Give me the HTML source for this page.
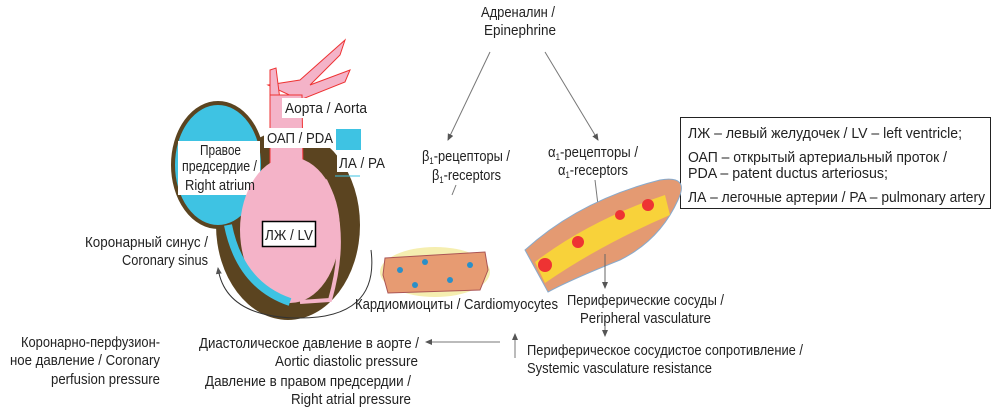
<!DOCTYPE html><html><head><meta charset="utf-8"><style>
html,body{margin:0;padding:0;background:#fff;width:999px;height:415px;overflow:hidden}
text{font-family:"Liberation Sans",sans-serif;font-size:15px;fill:#222}
</style></head><body>
<svg width="999" height="415" viewBox="0 0 999 415" xmlns="http://www.w3.org/2000/svg">
<defs><marker id="a" markerWidth="8" markerHeight="8" refX="6" refY="4" orient="auto"><path d="M0,1 L7,4 L0,7 Z" fill="#555"/></marker></defs>
<text x="481" y="17" textLength="74" lengthAdjust="spacingAndGlyphs">Адреналин /</text>
<text x="484" y="35" textLength="72" lengthAdjust="spacingAndGlyphs">Epinephrine</text>
<line x1="490" y1="52" x2="448" y2="140" stroke="#777" marker-end="url(#a)"/>
<line x1="545" y1="52" x2="598" y2="140" stroke="#777" marker-end="url(#a)"/>
<text x="422" y="161" textLength="88" lengthAdjust="spacingAndGlyphs">β<tspan font-size="9" dy="3">1</tspan><tspan dy="-3">-рецепторы /</tspan></text>
<text x="432" y="180" textLength="69" lengthAdjust="spacingAndGlyphs">β<tspan font-size="9" dy="3">1</tspan><tspan dy="-3">-receptors</tspan></text>
<line x1="456" y1="185" x2="452" y2="195" stroke="#777"/>
<text x="548" y="157" textLength="90" lengthAdjust="spacingAndGlyphs">α<tspan font-size="9" dy="3">1</tspan><tspan dy="-3">-рецепторы /</tspan></text>
<text x="558" y="175" textLength="70" lengthAdjust="spacingAndGlyphs">α<tspan font-size="9" dy="3">1</tspan><tspan dy="-3">-receptors</tspan></text>
<line x1="595" y1="180" x2="598" y2="205" stroke="#777"/>
<rect x="680.5" y="117.5" width="310" height="91" fill="#fff" stroke="#222"/>
<text x="688" y="138" textLength="274" lengthAdjust="spacingAndGlyphs">ЛЖ – левый желудочек / LV – left ventricle;</text>
<text x="688" y="162" textLength="259" lengthAdjust="spacingAndGlyphs">ОАП – открытый артериальный проток /</text>
<text x="688" y="178" textLength="200" lengthAdjust="spacingAndGlyphs">PDA – patent ductus arteriosus;</text>
<text x="688" y="202" textLength="297" lengthAdjust="spacingAndGlyphs">ЛА – легочные артерии / PA – pulmonary artery</text>
<!-- heart -->
<path d="M268,85 L300,80 L345,40 L340,55 L310,85 L350,70 L345,82 L300,100 Z" fill="#f4b3c8" stroke="#e33" stroke-width="1"/>
<path d="M270,70 L276,68 L280,100 L270,100 Z" fill="#f4b3c8" stroke="#e33"/>
<ellipse cx="288" cy="225" rx="72" ry="95" fill="#5b4420"/>
<ellipse cx="218" cy="165" rx="45" ry="62" fill="#3ec3e3" stroke="#5b4420" stroke-width="4"/>
<rect x="178" y="141" width="82" height="54" fill="#fff"/>
<path d="M270,95 L302,95 L303,168 L290,175 L270,168 Z" fill="#f4b3c8" stroke="#e33"/>
<ellipse cx="290" cy="230" rx="50" ry="73" fill="#f4b3c8"/>
<path d="M228,225 Q240,285 290,302" stroke="#3ec3e3" stroke-width="8" fill="none"/>
<path d="M325,180 Q350,230 330,300 L300,302" stroke="#f4b3c8" stroke-width="4" fill="none"/>
<rect x="282" y="98" width="86" height="20" fill="#fff"/>
<text x="285" y="113" textLength="82" lengthAdjust="spacingAndGlyphs">Аорта / Aorta</text>
<rect x="264" y="128" width="71" height="20" fill="#fff"/>
<text x="267" y="143" textLength="66" lengthAdjust="spacingAndGlyphs">ОАП / PDA</text>
<rect x="336" y="129" width="25" height="21" fill="#3ec3e3"/>
<rect x="337" y="152" width="50" height="20" fill="#fff"/>
<text x="339" y="168" textLength="46" lengthAdjust="spacingAndGlyphs">ЛА / РА</text>
<line x1="335" y1="176" x2="360" y2="176" stroke="#3ec3e3"/>
<text x="200" y="155" textLength="41" lengthAdjust="spacingAndGlyphs">Правое</text>
<text x="182" y="171" textLength="75" lengthAdjust="spacingAndGlyphs">предсердие /</text>
<text x="185" y="190" textLength="70" lengthAdjust="spacingAndGlyphs">Right atrium</text>
<rect x="262.5" y="221.5" width="53" height="25" fill="#fff" stroke="#000" stroke-width="1.5"/>
<text x="265" y="240" textLength="48" lengthAdjust="spacingAndGlyphs">ЛЖ / LV</text>
<text x="85" y="247" textLength="123" lengthAdjust="spacingAndGlyphs">Коронарный синус /</text>
<text x="122" y="265" textLength="86" lengthAdjust="spacingAndGlyphs">Coronary sinus</text>
<path d="M371,250 Q380,320 295,318 Q225,316 218,268" stroke="#333" fill="none" marker-end="url(#a)"/>
<ellipse cx="435" cy="272" rx="55" ry="25" fill="#f5eeb0"/>
<path d="M385,258 L485,252 L488,270 L480,290 L388,293 L383,275 Z" fill="#e79b72" stroke="#a55"/>
<circle cx="400" cy="270" r="3" fill="#2a8fc8"/><circle cx="425" cy="262" r="3" fill="#2a8fc8"/><circle cx="450" cy="280" r="3" fill="#2a8fc8"/><circle cx="470" cy="265" r="3" fill="#2a8fc8"/><circle cx="415" cy="285" r="3" fill="#2a8fc8"/>
<text x="355" y="309" textLength="203" lengthAdjust="spacingAndGlyphs">Кардиомиоциты / Cardiomyocytes</text>
<path d="M525,250 Q580,200 660,180 Q690,175 678,200 Q660,240 620,260 Q570,280 548,292 Z" fill="#e49a72" stroke="#8ac"/>
<path d="M535,262 Q590,220 665,195 L670,215 Q600,245 545,283 Z" fill="#f8d23a"/>
<circle cx="545" cy="265" r="7" fill="#e33"/><circle cx="578" cy="242" r="6" fill="#e33"/><circle cx="620" cy="215" r="5" fill="#e33"/><circle cx="648" cy="205" r="6" fill="#e33"/>
<line x1="605" y1="254" x2="605" y2="288" stroke="#666" marker-end="url(#a)"/>
<text x="567" y="305" textLength="157" lengthAdjust="spacingAndGlyphs">Периферические сосуды /</text>
<text x="580" y="323" textLength="131" lengthAdjust="spacingAndGlyphs">Peripheral vasculature</text>
<line x1="605" y1="326" x2="605" y2="336" stroke="#666" marker-end="url(#a)"/>
<text x="527" y="355" textLength="276" lengthAdjust="spacingAndGlyphs">Периферическое сосудистое сопротивление /</text>
<text x="527" y="373" textLength="185" lengthAdjust="spacingAndGlyphs">Systemic vasculature resistance</text>
<line x1="500" y1="342" x2="426" y2="342" stroke="#777" marker-end="url(#a)"/>
<line x1="515" y1="358" x2="515" y2="334" stroke="#777" marker-end="url(#a)"/>
<text x="199" y="348" textLength="220" lengthAdjust="spacingAndGlyphs">Диастолическое давление в аорте /</text>
<text x="275" y="366" textLength="143" lengthAdjust="spacingAndGlyphs">Aortic diastolic pressure</text>
<text x="205" y="386" textLength="206" lengthAdjust="spacingAndGlyphs">Давление в правом предсердии /</text>
<text x="291" y="404" textLength="120" lengthAdjust="spacingAndGlyphs">Right atrial pressure</text>
<text x="21" y="347" textLength="139" lengthAdjust="spacingAndGlyphs">Коронарно-перфузион-</text>
<text x="10" y="365" textLength="150" lengthAdjust="spacingAndGlyphs">ное давление / Coronary</text>
<text x="51" y="384" textLength="109" lengthAdjust="spacingAndGlyphs">perfusion pressure</text>
</svg></body></html>
